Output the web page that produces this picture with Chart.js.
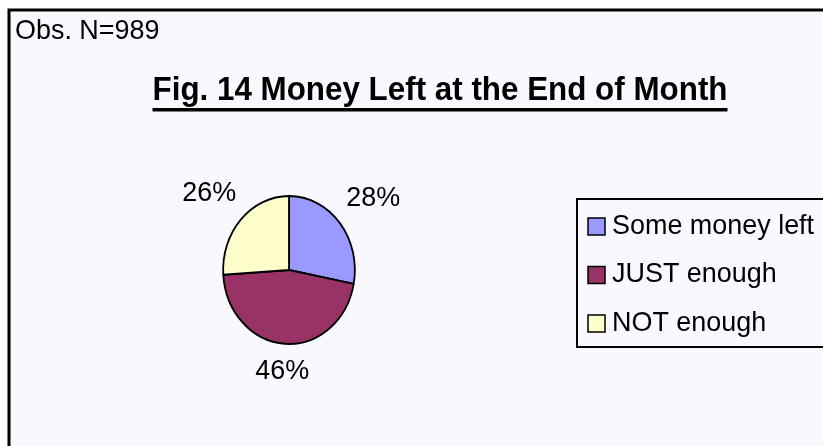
<!DOCTYPE html>
<html>
<head>
<meta charset="utf-8">
<script src="https://cdn.jsdelivr.net/npm/chart.js@4.4.0/dist/chart.umd.min.js"></script>
<style>
  html, body { margin: 0; padding: 0; background: #ffffff; }
  #wrap { width: 823px; height: 446px; position: relative; }
</style>
</head>
<body>
<div id="wrap"><canvas id="pieChart" width="823" height="446"></canvas></div>
<script>
// ── Data ─────────────────────────────────────────────────────────────────────
const categories = ['Some money left', 'JUST enough', 'NOT enough'];
const shares = [28, 46, 26];
const sliceColors = ['#9999FF', '#993366', '#FFFFCC'];
const chartTitle = 'Fig. 14 Money Left at the End of Month';
const obsNote = 'Obs. N=989';

const FONT = "'Liberation Sans', Arial, sans-serif";
const X_SQUASH = 0.89;   // the original pie is a little taller than wide
const TEXT_SQUASH = 0.945; // and its text a little narrower than plain Arial

// draw text narrowed horizontally around its anchor
function squashText(ctx, text, x, y, sx) {
    ctx.save();
    ctx.translate(x, y);
    ctx.scale(sx, 1);
    ctx.fillText(text, 0, 0);
    ctx.restore();
}

// ── Decorations: frame, title, note, legend, outside labels ───────────────────
const decorPlugin = {
    id: 'decor',
    beforeDraw(chart) {
        const ctx = chart.ctx;
        ctx.save();
        ctx.fillStyle = '#ffffff';
        ctx.fillRect(0, 0, chart.width, chart.height);
        ctx.fillStyle = '#F8F8FE';
        ctx.fillRect(9, 10, chart.width, chart.height);
        ctx.strokeStyle = '#000000';
        ctx.lineWidth = 3;
        ctx.beginPath();
        ctx.moveTo(9, chart.height + 5);
        ctx.lineTo(9, 10);
        ctx.lineTo(chart.width + 5, 10);
        ctx.stroke();
        ctx.restore();
    },
    beforeDatasetsDraw(chart) {
        const arc = chart.getDatasetMeta(0).data[0];
        const ctx = chart.ctx;
        ctx.save();
        ctx.translate(arc.x, 0);
        ctx.scale(X_SQUASH, 1);
        ctx.translate(-arc.x, 0);
    },
    afterDatasetsDraw(chart) {
        chart.ctx.restore();
    },
    afterDraw(chart) {
        const ctx = chart.ctx;
        ctx.save();
        ctx.fillStyle = '#000000';

        // note
        ctx.font = `28.5px ${FONT}`;
        ctx.textAlign = 'left';
        ctx.textBaseline = 'alphabetic';
        squashText(ctx, obsNote, 15, 39, TEXT_SQUASH);

        // title with underline
        ctx.font = `bold 32.5px ${FONT}`;
        ctx.textAlign = 'center';
        const tx = 440, ty = 100;
        const titleSx = 0.965;
        squashText(ctx, chartTitle, tx, ty, titleSx);
        const tw = ctx.measureText(chartTitle).width * titleSx;
        ctx.fillRect(tx - tw / 2, 108, tw, 3.5);

        // percentage labels outside the slices
        ctx.font = `28.5px ${FONT}`;
        ctx.textBaseline = 'middle';
        const total = shares.reduce((a, b) => a + b, 0);
        chart.getDatasetMeta(0).data.forEach((arc, i) => {
            const mid = (arc.startAngle + arc.endAngle) / 2;
            const rx = arc.outerRadius * X_SQUASH;
            const ry = arc.outerRadius;
            const x = arc.x + Math.cos(mid) * (rx + 43.5);
            const y = arc.y + Math.sin(mid) * (ry + 31.7) - 4.5;
            squashText(ctx, Math.round(shares[i] / total * 100) + '%', x, y, TEXT_SQUASH);
        });

        // legend box
        const lx = 577, ly = 199;
        ctx.lineWidth = 2;
        ctx.strokeStyle = '#000000';
        ctx.beginPath();
        ctx.moveTo(chart.width + 5, ly);
        ctx.lineTo(lx, ly);
        ctx.lineTo(lx, 347);
        ctx.lineTo(chart.width + 5, 347);
        ctx.stroke();

        ctx.textAlign = 'left';
        ctx.textBaseline = 'alphabetic';
        ctx.lineWidth = 1.5;
        categories.forEach((name, i) => {
            const rowY = 218 + i * 48.5;
            ctx.fillStyle = sliceColors[i];
            ctx.fillRect(588, rowY, 17, 17);
            ctx.strokeRect(588, rowY, 17, 17);
            ctx.fillStyle = '#000000';
            squashText(ctx, name, 612, rowY + 15.5, TEXT_SQUASH);
        });
        ctx.restore();
    }
};

// ── Chart ────────────────────────────────────────────────────────────────────
const ctx = document.getElementById('pieChart').getContext('2d');
const chart = new Chart(ctx, {
    type: 'pie',
    data: {
        labels: categories,
        datasets: [{
            data: shares,
            backgroundColor: sliceColors,
            borderColor: '#000000',
            borderWidth: 2,
        }]
    },
    options: {
        responsive: false,
        animation: false,
        events: [],
        layout: { padding: { left: 214, right: 459, top: 195, bottom: 101 } },
        plugins: {
            legend: { display: false },
            title: { display: false },
            tooltip: { enabled: false }
        }
    },
    plugins: [decorPlugin]
});
</script>
</body>
</html>
